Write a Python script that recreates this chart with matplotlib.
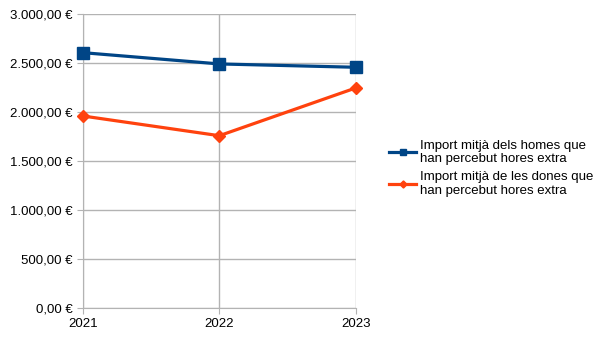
import matplotlib.pyplot as plt
from matplotlib.ticker import FuncFormatter

plt.rcParams['font.family'] = ['Liberation Sans', 'DejaVu Sans']

years = ['2021', '2022', '2023']
homes = [2605, 2490, 2456]
dones = [1959, 1758, 2245]
labels = ['Import mitjà dels homes que\nhan percebut hores extra',
          'Import mitjà de les dones que\nhan percebut hores extra']

def euro(v, pos):
    s = f"{v:,.2f}".replace(',', 'X').replace('.', ',').replace('X', '.')
    return s + ' €'

fig = plt.figure(figsize=(6.05, 3.4), dpi=100)
ax = fig.add_axes([0.137, 0.094, 0.451, 0.865])
x = range(len(years))
ax.plot(x, homes, color='#004586', lw=2.3, marker='s', ms=8, label=labels[0], clip_on=False, zorder=3)
ax.plot(x, dones, color='#ff420e', lw=2.3, marker='D', ms=6, label=labels[1], clip_on=False, zorder=3)

ax.set_xlim(0, 2)
ax.set_ylim(0, 3000)
ax.set_yticks(range(0, 3001, 500))
ax.yaxis.set_major_formatter(FuncFormatter(euro))
ax.set_xticks(list(x))
ax.set_xticklabels(years)
ax.grid(True, color='#b3b3b3', lw=1)
ax.set_axisbelow(True)
for s in ['top', 'right']:
    ax.spines[s].set_visible(False)
for s in ['left', 'bottom']:
    ax.spines[s].set_color('#b3b3b3')
ax.tick_params(colors='#b3b3b3', labelcolor='black', labelsize=9.5, length=4)

ax.legend(loc='center left', bbox_to_anchor=(1.0, 0.475), frameon=False,
          fontsize=9.5, handlelength=2.1, handletextpad=0.3, labelspacing=0.45,
          borderaxespad=2.1, markerscale=0.6)

fig.savefig('out.png')
